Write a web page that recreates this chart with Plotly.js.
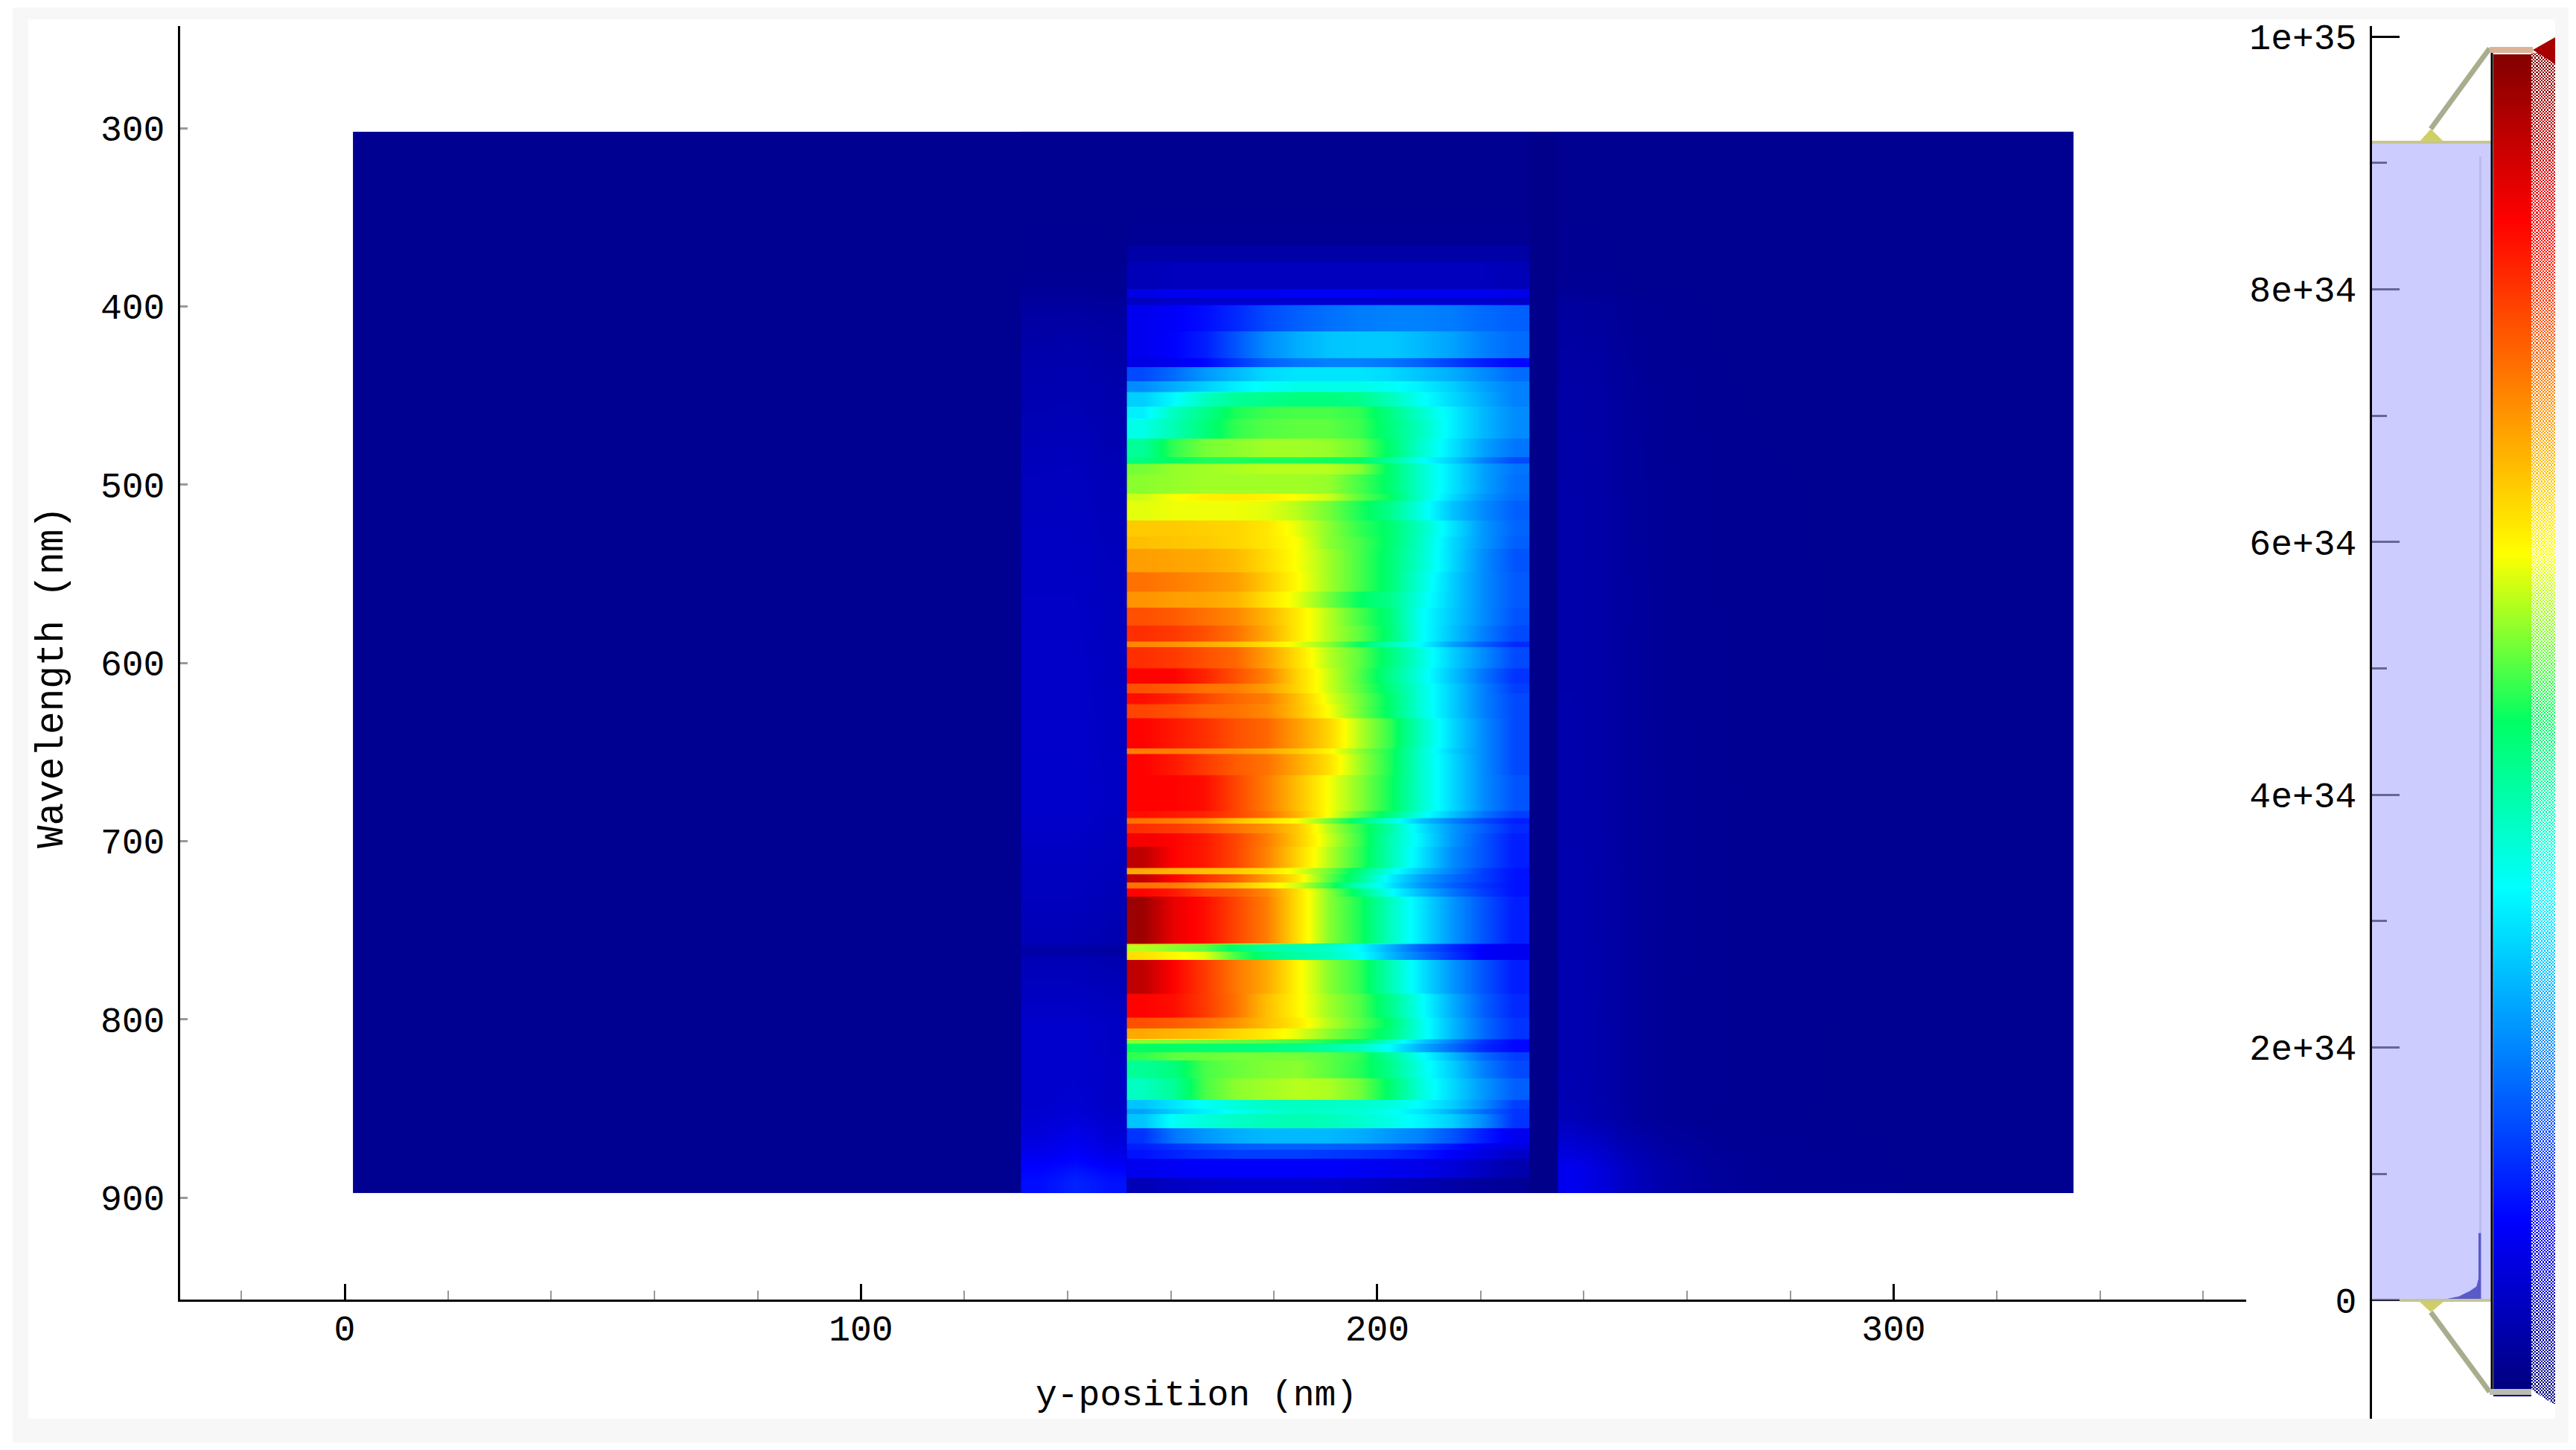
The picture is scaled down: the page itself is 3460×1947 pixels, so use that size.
<!DOCTYPE html>
<html>
<head>
<meta charset="utf-8">
<title>y-position vs wavelength</title>
<script src="https://cdn.plot.ly/plotly-3.0.1.min.js"></script>
<style>
  html, body { margin: 0; padding: 0; background: #fff; }
  #chart { width: 3460px; height: 1947px; }
</style>
</head>
<body>
<div id="chart"></div>
<script>
// all z values are in units of 1e34
const zMax = 9.16;

// main block, x 151.5 - 229.5 nm
const mainColEdges = [151.5, 157.5, 163.5, 169.5, 175.5, 181.5, 187.5, 193.5, 199.5, 205.5, 211.5, 217.5, 223.5, 229.5];
const bandEdges = [302, 352, 366, 375, 390, 395, 399, 414, 429, 434, 442, 448, 456, 463, 474, 484.5, 488, 494, 505, 509, 520,
  529, 536, 549, 560, 569, 579, 588, 591, 603, 611.5, 617, 623, 631, 648, 651, 663, 683, 687, 690, 695.5, 703, 715,
  718.5, 723, 726.5, 731, 757.5, 762, 766.5, 785.5, 799, 805, 811, 813.5, 818.5, 823, 833, 845, 850, 853, 861, 869.5,
  873, 878, 889, 897.5];
const bandValues = [
  [.15, .15, .15, .15, .15, .15, .15, .15, .15, .15, .15, .15, .15],
  [.18, .18, .18, .18, .18, .18, .18, .18, .18, .18, .18, .18, .18],
  [.35, .35, .35, .35, .35, .35, .35, .35, .35, .35, .35, .35, .35],
  [.5, .55, .55, .55, .55, .55, .55, .55, .55, .55, .55, .55, .5],
  [.9, 1, 1, 1, 1, 1.05, 1.05, 1.05, 1, 1, 1, 1, .95],
  [.6, .65, .7, .7, .7, .7, .7, .7, .7, .7, .7, .7, .65],
  [1, 1.1, 1.25, 1.5, 1.8, 2, 2.15, 2.25, 2.3, 2.3, 2.25, 2.1, 2],
  [1, 1.15, 1.4, 1.9, 2.4, 2.7, 2.9, 2.95, 2.95, 2.8, 2.6, 2.3, 2.1],
  [.9, 1, 1.2, 1.6, 2, 2.2, 2.3, 2.3, 2.2, 2, 1.7, 1.4, 1.2],
  [1.8, 2.1, 2.5, 2.8, 3.1, 3.2, 3.2, 3.2, 3.1, 2.9, 2.7, 2.4, 2.1],
  [2.4, 2.7, 3, 3.3, 3.5, 3.6, 3.6, 3.6, 3.5, 3.3, 3, 2.6, 2.3],
  [3, 3.4, 3.9, 4.2, 4.3, 4.4, 4.4, 4.3, 3.95, 3.5, 3.1, 2.7, 2.3],
  [3.3, 3.9, 4.3, 4.7, 4.85, 4.9, 4.9, 4.8, 4.35, 3.8, 3.3, 2.8, 2.4],
  [3.6, 4, 4.4, 4.8, 4.95, 5, 5, 4.85, 4.4, 3.9, 3.3, 2.8, 2.4],
  [4.2, 4.8, 5.1, 5.2, 5.3, 5.3, 5.25, 5.05, 4.5, 3.8, 3.2, 2.6, 2.2],
  [4.4, 4.6, 4.7, 4.7, 4.7, 4.7, 4.65, 4.6, 4.2, 3.5, 3, 2.3, 1.8],
  [5.1, 5.25, 5.3, 5.35, 5.4, 5.4, 5.4, 5.2, 4.5, 3.8, 3.2, 2.6, 2.2],
  [5.2, 5.25, 5.3, 5.3, 5.3, 5.3, 5.25, 4.9, 4.5, 3.8, 3.2, 2.6, 2.15],
  [5.5, 5.7, 5.85, 5.9, 5.85, 5.7, 5.5, 5, 4.6, 3.8, 3.1, 2.5, 2.1],
  [5.6, 5.65, 5.65, 5.65, 5.6, 5.4, 5.1, 4.7, 4.3, 3.6, 2.9, 2.4, 2],
  [6.2, 6.2, 6.15, 6.1, 5.95, 5.6, 5.2, 4.8, 4.5, 3.9, 3.2, 2.5, 2.05],
  [6.3, 6.25, 6.2, 6.1, 5.95, 5.7, 5.2, 4.9, 4.5, 3.85, 3.1, 2.5, 2],
  [6.6, 6.55, 6.5, 6.35, 6.05, 5.7, 5.3, 4.9, 4.45, 3.8, 3.1, 2.4, 1.9],
  [7, 6.9, 6.75, 6.6, 6.2, 5.75, 5.3, 4.9, 4.45, 3.7, 3, 2.4, 1.95],
  [6.7, 6.6, 6.55, 6.4, 6, 5.6, 5.1, 4.6, 4.3, 3.6, 3, 2.4, 1.95],
  [7.3, 7.2, 7, 6.8, 6.4, 5.9, 5.4, 4.9, 4.4, 3.5, 2.95, 2.4, 1.9],
  [7.6, 7.5, 7.3, 7, 6.5, 5.9, 5.4, 5, 4.45, 3.5, 2.9, 2.3, 1.8],
  [6.8, 6.7, 6.5, 6.3, 6, 5.6, 5.2, 4.6, 4, 3.4, 2.6, 2, 1.5],
  [7.6, 7.5, 7.3, 7.1, 6.6, 6, 5.4, 5, 4.4, 3.7, 3, 2.4, 1.8],
  [8, 8, 7.7, 7.3, 6.85, 6.1, 5.5, 4.95, 4.3, 3.6, 2.9, 2.2, 1.6],
  [7.3, 7.2, 7, 6.9, 6.6, 6.1, 5.5, 5, 4.4, 3.7, 3, 2.3, 1.7],
  [7.9, 7.7, 7.4, 7.1, 6.9, 6.3, 5.6, 5.1, 4.5, 3.7, 3, 2.3, 1.8],
  [7.4, 7.3, 7.1, 7, 6.8, 6.3, 5.7, 5.1, 4.5, 3.7, 3, 2.3, 1.8],
  [8, 7.8, 7.6, 7.3, 7.1, 6.6, 6.1, 5.4, 4.8, 3.9, 3.1, 2.4, 1.8],
  [6.9, 6.9, 6.8, 6.7, 6.5, 6.2, 5.8, 5.2, 4.7, 3.8, 3, 2.4, 1.8],
  [8, 7.8, 7.5, 7.2, 7, 6.5, 6, 5.3, 4.7, 3.8, 3.1, 2.4, 1.8],
  [8, 8, 7.9, 7.4, 6.9, 6.3, 5.7, 5.2, 4.65, 3.8, 3.1, 2.4, 1.9],
  [7.9, 7.8, 7.7, 7.4, 7, 6.4, 5.7, 5, 4.4, 3.6, 2.9, 2.2, 1.7],
  [7, 6.9, 6.7, 6.3, 6, 5.7, 5.1, 4.4, 3.7, 2.9, 2.3, 1.8, 1.4],
  [7.6, 7.5, 7.3, 7, 6.7, 6.2, 5.4, 4.8, 4.1, 3.2, 2.5, 2, 1.5],
  [8.1, 8, 7.8, 7.4, 6.9, 6.2, 5.5, 4.85, 4, 3.3, 2.5, 1.9, 1.4],
  [8.6, 8, 7.8, 7.4, 6.85, 6.1, 5.4, 4.8, 4, 3.2, 2.4, 1.9, 1.4],
  [6.5, 6.4, 6.3, 6.2, 6, 5.6, 5.1, 4.4, 3.6, 2.9, 2.3, 1.7, 1.3],
  [8.6, 8, 7.6, 7.2, 6.6, 5.9, 5, 4.3, 3.3, 2.6, 2.1, 1.7, 1.3],
  [7, 6.9, 6.6, 6.3, 5.9, 5.5, 4.8, 3.9, 3.2, 2.5, 2, 1.6, 1.3],
  [8, 7.8, 7.4, 7.2, 6.8, 6, 5.2, 4.4, 3.5, 2.8, 2.2, 1.7, 1.3],
  [8.9, 8.2, 7.9, 7.4, 6.9, 6, 5.2, 4.7, 3.9, 3.2, 2.5, 1.9, 1.4],
  [5.4, 5.2, 5, 4.5, 4.1, 3.95, 3.8, 3.4, 2.7, 2, 1.5, 1.1, 1],
  [6, 5.8, 5.6, 4.9, 4.4, 4.1, 3.9, 3.5, 2.8, 2.2, 1.6, 1.1, 1],
  [8.6, 8, 7.5, 6.95, 6.5, 5.8, 5.2, 4.8, 4, 3.2, 2.5, 1.9, 1.4],
  [8, 7.9, 7.5, 7, 6.3, 5.8, 5.3, 4.95, 4.3, 3.5, 2.7, 2, 1.5],
  [7.3, 7.2, 7, 6.7, 6.3, 5.9, 5.4, 5, 4.5, 3.6, 2.8, 2.1, 1.6],
  [6.5, 6.4, 6.3, 6.1, 5.9, 5.6, 5.2, 4.85, 4.4, 3.6, 2.8, 2.1, 1.6],
  [5.2, 5.15, 5.1, 5.05, 5, 4.9, 4.7, 4.5, 3.8, 3, 2.3, 1.6, 1.2],
  [4.6, 4.55, 4.5, 4.45, 4.4, 4.3, 4.1, 3.9, 3.4, 2.7, 2.1, 1.5, 1.2],
  [4.8, 5, 5.05, 5.1, 5.1, 5.1, 5, 4.8, 4.2, 3.5, 2.8, 2.1, 1.7],
  [4.2, 4.4, 4.9, 5.05, 5.15, 5.2, 5, 4.75, 4.3, 3.6, 3, 2.3, 1.8],
  [3.9, 4.2, 4.9, 5.2, 5.3, 5.4, 5.35, 5.1, 4.5, 3.7, 3.1, 2.5, 2],
  [2.9, 3.2, 3.5, 3.7, 3.85, 3.9, 3.85, 3.8, 3.7, 3.4, 3, 2.4, 1.7],
  [2.6, 3, 3.3, 3.5, 3.7, 3.85, 3.8, 3.7, 3.5, 3.2, 2.7, 2.1, 1.6],
  [2.9, 3.5, 3.7, 3.85, 3.95, 4, 3.95, 3.8, 3.6, 3.35, 3, 2.4, 1.6],
  [1.6, 2.2, 2.5, 2.7, 2.8, 2.8, 2.8, 2.7, 2.5, 2.3, 1.9, 1.4, 1],
  [1.4, 1.6, 1.8, 1.95, 2, 2, 2, 1.95, 1.85, 1.6, 1.3, 1, .85],
  [1.3, 1.45, 1.6, 1.7, 1.7, 1.7, 1.65, 1.6, 1.5, 1.35, 1.1, .9, .65],
  [1, 1.05, 1.1, 1.1, 1.1, 1.1, 1.1, 1.05, 1, .95, .8, .6, .4],
  [.5, .6, .65, .7, .7, .7, .65, .6, .5, .45, .35, .25, .2]
];

// strip left of the main block, x 131 - 151.5 nm
const leftColEdges = [131, 138, 145, 151.5];
const leftRowEdges = [302, 380, 400, 450, 500, 600, 757, 766, 840, 860, 875, 885, 897.5];
const leftValues = [
  [.15, .15, .15],
  [.2, .2, .18],
  [.38, .4, .35],
  [.5, .52, .45],
  [.62, .62, .55],
  [.68, .68, .62],
  [.3, .3, .25],
  [.68, .68, .62],
  [.7, .75, .65],
  [.85, 1, .8],
  [1.1, 1.2, 1.05],
  [1.25, 1.45, 1.3]
];

// fade right of the main block, x 235 - 334.8 nm
const rightColEdges = [235, 241, 247, 256, 275, 334.8];
const rightRowEdges = [302, 380, 400, 500, 840, 870, 897.5];
const rightValues = [
  [.15, .15, .15, .15, .15],
  [.2, .18, .15, .15, .15],
  [.35, .32, .22, .16, .15],
  [.4, .35, .25, .18, .15],
  [.5, .4, .25, .17, .15],
  [1, .8, .5, .25, .15]
];

// flat parts
const baseX = [1.6, 334.8];
const baseY = [302, 897.5];
const baseZ = [[.15]];
const gapX = [229.5, 235];
const gapY = [302, 897.5];
const gapZ = [[.1]];

// histogram next to the colour bar
const histLevels = [0, .025e34, .065e34, .105e34, .17e34, .526e34, .526e34, 0];
const histCounts = [.34, .195, .1, .03, .01, .01, 0, 0];
const histLineLevels = [.526e34, 9.05e34];
const histLineCounts = [0, 0];
const histFillLevels = [0, 0, 9.16e34, 9.16e34];
const histFillCounts = [-.1, 1, 1, -.1];

const scaleTicks = [0, 2e34, 4e34, 6e34, 8e34, 1e35];
const scaleLabels = ["0", "2e+34", "4e+34", "6e+34", "8e+34", "1e+35"];

const jet = [
  [0, "rgb(0,0,128)"],
  [.125, "rgb(0,0,255)"],
  [.25, "rgb(0,128,255)"],
  [.375, "rgb(0,255,255)"],
  [.5, "rgb(0,255,100)"],
  [.625, "rgb(255,255,0)"],
  [.75, "rgb(255,128,0)"],
  [.875, "rgb(255,0,0)"],
  [1, "rgb(128,0,0)"]
];

const W = 3460, H = 1947;
const fx = p => p / W;
const fy = p => 1 - p / H;
const monoFont = { family: "Liberation Mono", size: 48, color: "#000" };

// each band gets thin rows at both ends so the edges between bands stay sharp in smoothing
const mainY = [], mainZ = [];
bandValues.forEach((row, i) => {
  const a = bandEdges[i], b = bandEdges[i + 1];
  const e = Math.min(.15, (b - a) / 4);
  if (i === 0) mainY.push(a);
  mainY.push(a + e, b - e, b);
  mainZ.push(row, row, row);
});

// colour bar ramp and its dithered strip
const barY = [], barZ = [];
for (let v = 0; v <= zMax + .001; v += .1) {
  barY.push(v);
  barZ.push([v, v]);
}
const stripY = [], stripZ = [];
for (let r = 0; r < 830; r++) {
  const v = -.102 + r * (zMax + .102) / 829;
  const cells = [];
  for (let c = 0; c < 15; c++) cells.push((r + c) % 2 === 0 ? Math.max(v, 0) : null);
  stripY.push(v);
  stripZ.push(cells);
}

const heat = (x, y, z, smooth, xa, ya) => ({
  type: "heatmap", x: x, y: y, z: z, coloraxis: "coloraxis",
  zsmooth: smooth, xaxis: xa || "x", yaxis: ya || "y", hoverinfo: "skip"
});

const stripTrace = { type: "heatmap", x0: 0, dx: 1, y: stripY, z: stripZ, coloraxis: "coloraxis",
  zsmooth: false, xaxis: "x4", yaxis: "y3", hoverinfo: "skip" };

const traces = [
  heat(baseX, baseY, baseZ, false),
  heat(leftColEdges, leftRowEdges, leftValues, "best"),
  heat(mainColEdges, mainY, mainZ, "best"),
  heat(gapX, gapY, gapZ, false),
  heat(rightColEdges, rightRowEdges, rightValues, "best"),
  { x: histFillCounts, y: histFillLevels, mode: "lines", fill: "toself", line: { width: 0 },
    fillcolor: "rgba(170,170,255,0.6)", xaxis: "x2", yaxis: "y2", hoverinfo: "skip" },
  { x: histLineCounts, y: histLineLevels, mode: "lines", line: { color: "#b9b9ea", width: 3 },
    xaxis: "x2", yaxis: "y2", hoverinfo: "skip" },
  { x: histCounts, y: histLevels, mode: "lines", fill: "toself", line: { color: "#5a5acb", width: 2 },
    fillcolor: "#5a5acb", xaxis: "x2", yaxis: "y2", hoverinfo: "skip" },
  heat([0, 1], barY, barZ, "best", "x3", "y3"),
  stripTrace
];

function poly(pts) {
  return pts.map((p, i) => (i ? "L" : "M") + fx(p[0]) + "," + fy(p[1])).join(" ") + " Z";
}

const lineTan = "#a9ad8e", triYellow = "#cfcf6a";
const shapes = [
  { type: "rect", xref: "paper", yref: "paper", layer: "below", x0: fx(17), x1: fx(3450), y0: fy(1937), y1: fy(10), fillcolor: "#f7f7f7", line: { width: 0 } },
  { type: "rect", xref: "paper", yref: "paper", layer: "below", x0: fx(38), x1: fx(3432), y0: fy(1905), y1: fy(26), fillcolor: "#fff", line: { width: 0 } },
  // top and bottom edges of the histogram
  { type: "line", xref: "paper", yref: "paper", x0: fx(3186), x1: fx(3346), y0: fy(191), y1: fy(191), line: { color: "#c5c690", width: 4 } },
  { type: "line", xref: "paper", yref: "paper", x0: fx(3223), x1: fx(3346), y0: fy(1746), y1: fy(1746), line: { color: "#c5c690", width: 4 } },
  // range handles
  { type: "path", xref: "paper", yref: "paper", path: poly([[3250, 190], [3265, 173], [3282, 190]]), fillcolor: triYellow, line: { width: 0 } },
  { type: "path", xref: "paper", yref: "paper", path: poly([[3250, 1748], [3265, 1762], [3282, 1748]]), fillcolor: triYellow, line: { width: 0 } },
  { type: "line", xref: "paper", yref: "paper", x0: fx(3265), x1: fx(3344), y0: fy(173), y1: fy(65), line: { color: lineTan, width: 7 } },
  { type: "line", xref: "paper", yref: "paper", x0: fx(3265), x1: fx(3344), y0: fy(1762), y1: fy(1869), line: { color: lineTan, width: 7 } },
  { type: "rect", xref: "paper", yref: "paper", x0: fx(3344), x1: fx(3402), y0: fy(71), y1: fy(63), fillcolor: "#dcb398", line: { width: 0 } },
  { type: "rect", xref: "paper", yref: "paper", x0: fx(3344), x1: fx(3402), y0: fy(1873), y1: fy(1865), fillcolor: "#bcbcb0", line: { width: 0 } },
  // black edge of the colour bar
  { type: "line", xref: "paper", yref: "paper", x0: fx(3347), x1: fx(3347), y0: fy(71), y1: fy(1865), line: { color: "#000", width: 3 } },
  // corners of the dithered strip
  { type: "path", xref: "paper", yref: "paper", path: poly([[3402, 67], [3432, 50], [3432, 86]]), fillcolor: "#a80000", line: { width: 0 } },
  { type: "path", xref: "paper", yref: "paper", path: poly([[3400, 1866], [3400, 1887], [3432, 1887]]), fillcolor: "#fff", line: { width: 0 } }
];

const layout = {
  width: W, height: H,
  margin: { l: 0, r: 0, t: 0, b: 0 },
  paper_bgcolor: "#fff",
  plot_bgcolor: "rgba(0,0,0,0)",
  showlegend: false,
  font: monoFont,
  coloraxis: { colorscale: jet, cmin: 0, cmax: zMax, showscale: false },
  xaxis: {
    domain: [fx(242), fx(3017)], range: [-31.87, 368.3], anchor: "y",
    showline: true, linewidth: 3, linecolor: "#000", showgrid: false, zeroline: false,
    dtick: 100, tick0: 0, ticks: "inside", ticklen: 21, tickwidth: 3, tickcolor: "#000",
    minor: { dtick: 20, ticks: "inside", ticklen: 12, tickwidth: 2, tickcolor: "#999" },
    tickfont: monoFont, ticklabelstandoff: -6
  },
  yaxis: {
    domain: [fy(1745), fy(35)], range: [957.2, 242.7], anchor: "x",
    showline: true, linewidth: 3, linecolor: "#000", showgrid: false, zeroline: false,
    dtick: 100, tick0: 300, ticks: "inside", ticklen: 10, tickwidth: 3, tickcolor: "#999",
    tickfont: monoFont, ticklabelstandoff: 8
  },
  // histogram panel
  xaxis2: { domain: [fx(3186), fx(3346)], range: [1, -.1], anchor: "y2", visible: false },
  yaxis2: {
    domain: [fy(1905), fy(35)], range: [-.937e34, 10.0825e34], anchor: "x2", layer: "below traces",
    showline: true, linewidth: 3, linecolor: "#000", showgrid: false, zeroline: false,
    tickmode: "array", tickvals: scaleTicks, ticktext: scaleLabels,
    ticks: "inside", ticklen: 37, tickwidth: 3, tickcolor: "#000",
    minor: { tickvals: [1e34, 3e34, 5e34, 7e34, 9e34], ticks: "inside", ticklen: 20, tickwidth: 3, tickcolor: "#000" },
    tickfont: monoFont, ticklabelstandoff: 8
  },
  // colour bar and dithered strip
  xaxis3: { domain: [fx(3349), fx(3400)], range: [0, 1], anchor: "y3", visible: false },
  xaxis4: { domain: [fx(3400), fx(3432)], range: [-.5, 14.5], anchor: "y3", visible: false },
  yaxis3: { domain: [fy(1885), fy(71)], range: [-.102, zMax], anchor: "x3", visible: false },
  shapes: shapes,
  annotations: [
    { text: "y-position (nm)", xref: "paper", yref: "paper", x: fx(1607), y: fy(1874), xanchor: "center", yanchor: "middle", showarrow: false, font: monoFont },
    { text: "Wavelength (nm)", xref: "paper", yref: "paper", x: fx(70), y: fy(910), xanchor: "center", yanchor: "middle", textangle: -90, showarrow: false,
      font: { family: "Liberation Mono", size: 51, color: "#000" } }
  ]
};

Plotly.newPlot("chart", traces, layout, { displayModeBar: false, staticPlot: true });
</script>
</body>
</html>
